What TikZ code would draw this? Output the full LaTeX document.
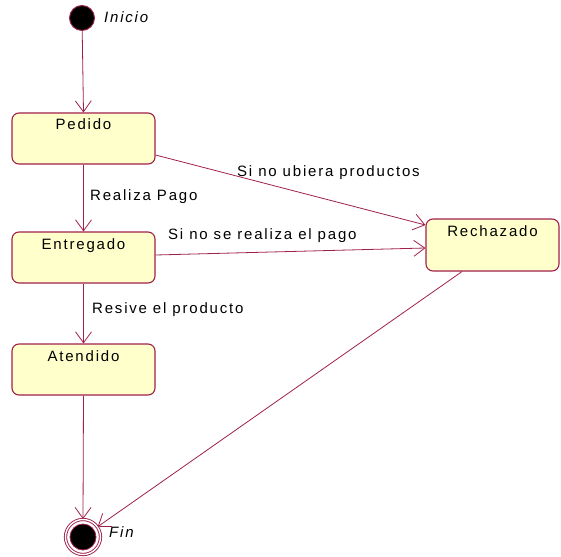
\documentclass[tikz,border=0pt]{standalone}
\usepackage{fontspec}
\setmainfont{Liberation Sans}[LetterSpace=12]
\usetikzlibrary{arrows.meta,calc}
\definecolor{edge}{HTML}{A0204C}
\definecolor{statefill}{HTML}{FFFFCC}
\tikzset{
  state/.style={draw=edge, line width=1.1pt, fill=statefill, rounded corners=7pt,
    inner sep=0pt, text height=17pt, text depth=34pt, font=\fontsize{15}{17}\selectfont},
  trans/.style={draw=edge, line width=0.8pt, -{Straight Barb[length=11pt,width=16pt,line width=0.8pt]}},
  lbl/.style={anchor=west, inner sep=0pt, font=\fontsize{15}{17}\selectfont},
  ilbl/.style={lbl, font=\fontsize{15}{17}\selectfont\itshape},
}
\begin{document}
\begin{tikzpicture}[x=1pt, y=-1pt]
\useasboundingbox (0,0) rectangle (561,556);

% initial and final pseudo-states
\node[circle, draw=edge, line width=0.9pt, fill=black, minimum size=25pt, inner sep=0pt] (start) at (82,18) {};
\node[ilbl] (startlbl) at (104,17) {Inicio};

\node[circle, draw=edge, line width=0.9pt, double=white, double distance=1.4pt, fill=white,
      minimum size=35pt, inner sep=0pt] (fin) at (83,537) {};
\node[circle, draw=edge, line width=0.8pt, fill=black, minimum size=26pt, inner sep=0pt] (fincore) at (fin) {};
\node[ilbl] (finlbl) at (109,532) {Fin};

% states
\node[state, minimum width=143pt] (pedido) at (83.5,138.5) {Pedido};
\node[state, minimum width=143pt] (entregado) at (83.5,257.5) {Entregado};
\node[state, minimum width=143pt] (atendido) at (83.5,369.5) {Atendido};
\node[state, minimum width=133pt, text depth=35pt] (rechazado) at (492.5,245) {Rechazado};

% transitions
\draw[trans] (start) -- (pedido.north);
\draw[trans] (pedido.south) -- (entregado.north);
\draw[trans] (entregado.south) -- (atendido.north);
\draw[trans] (atendido.south) -- (fin.north);
\draw[trans] ([yshift=-16.5pt]pedido.east) -- ([yshift=20pt]rechazado.west);
\draw[trans] ([yshift=2.5pt]entregado.east) -- ([yshift=-3pt]rechazado.west);
\draw[trans] ([xshift=-30.5pt]rechazado.south) -- (fin);

% transition labels
\node[lbl] (lpago) at (90,197) {Realiza Pago};
\node[lbl] (lresive) at (92,310) {Resive el producto};
\node[lbl] (lubiera) at (237,173) {Si no ubiera productos};
\node[lbl] (lnopago) at (168,236) {Si no se realiza el pago};
\end{tikzpicture}
\end{document}
